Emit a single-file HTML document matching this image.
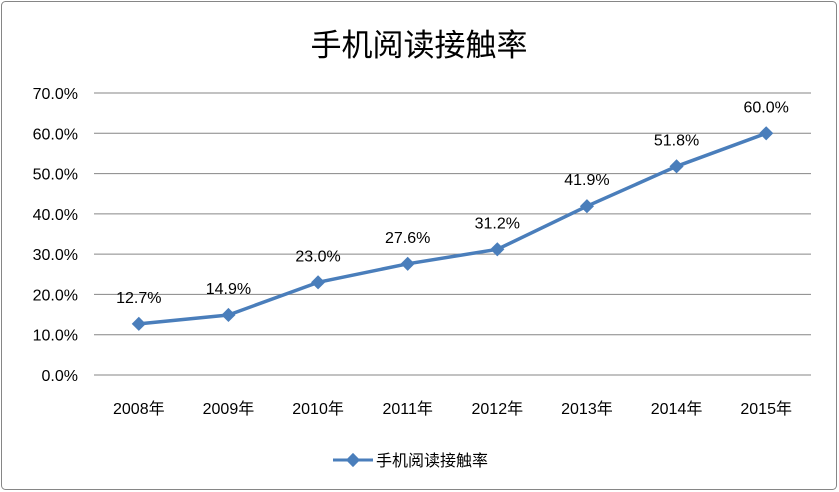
<!DOCTYPE html>
<html><head><meta charset="utf-8"><style>
body{margin:0;background:#fff;}
svg{display:block;font-family:"Liberation Sans","Noto Sans CJK SC",sans-serif;}
</style></head><body>
<svg id="chart" width="839" height="492">
<rect x="1.5" y="1.5" width="835" height="488" rx="4" fill="#fff" stroke="#868686"/>
<text x="419" y="56" text-anchor="middle" font-size="31" fill="#000">手机阅读接触率</text>
<g id="grid"></g><g id="series"></g><g id="labels"></g>
<g>
<line x1="333" y1="460" x2="373" y2="460" stroke="#4a7ebb" stroke-width="3"/>
<rect x="348" y="455" width="10" height="10" fill="#4a7ebb" transform="rotate(45 353 460)"/>
<text x="376" y="466" font-size="16">手机阅读接触率</text>
</g>
</svg>
<script>
const categories=["2008年","2009年","2010年","2011年","2012年","2013年","2014年","2015年"];
const values=[12.7,14.9,23.0,27.6,31.2,41.9,51.8,60.0];
const yTicks=[0,10,20,30,40,50,60,70];
const NS="http://www.w3.org/2000/svg";
const plotLeft=94,plotRight=811,plotTop=93,plotBottom=375,yMax=70;
const step=(plotRight-plotLeft)/categories.length;
function xPos(i){return plotLeft+step*(i+0.5);}
function yPos(v){return plotBottom-(v/yMax)*(plotBottom-plotTop);}
function mk(t,a,p){const e=document.createElementNS(NS,t);for(const k in a)e.setAttribute(k,a[k]);p.appendChild(e);return e;}
const grid=document.getElementById('grid'),ser=document.getElementById('series'),lab=document.getElementById('labels');
yTicks.forEach(t=>{
 const l=mk('line',{x1:plotLeft,x2:plotRight,y1:yPos(t),y2:yPos(t),stroke:'#868686','stroke-width':1},grid);
 
 
 const tx=mk('text',{x:78,y:yPos(t)+6,'text-anchor':'end','font-size':16},grid);
 tx.textContent=t.toFixed(1)+'%';
 
 
});
categories.forEach((c,i)=>{
 const tx=mk('text',{x:xPos(i),y:414,'text-anchor':'middle','font-size':16},grid);
 tx.textContent=c;
 
 
});
const pl=mk('polyline',{points:values.map((v,i)=>xPos(i)+','+yPos(v)).join(' '),fill:'none',stroke:'#4a7ebb','stroke-width':3.5,'stroke-linejoin':'round'},ser);


values.forEach((v,i)=>{
 const m=mk('rect',{x:xPos(i)-5,y:yPos(v)-5,width:10,height:10,fill:'#4a7ebb',transform:'rotate(45 '+xPos(i)+' '+yPos(v)+')'},ser);
 
 
 const t=mk('text',{x:xPos(i),y:yPos(v)-21,'text-anchor':'middle','font-size':16},lab);
 t.textContent=v.toFixed(1)+'%';
 
 
});
</script>
</body></html>
